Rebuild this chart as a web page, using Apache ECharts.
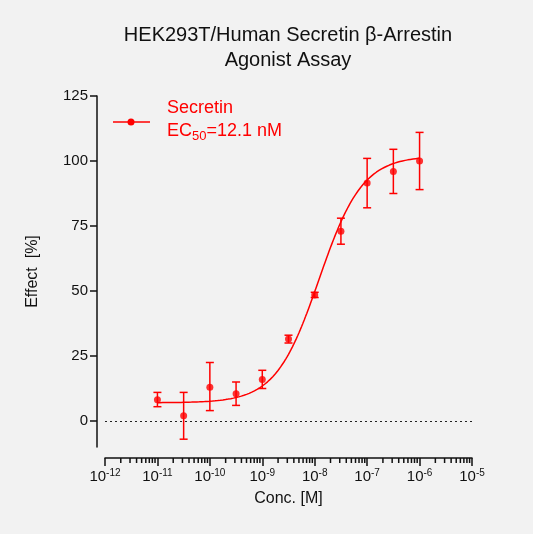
<!DOCTYPE html>
<html><head><meta charset="utf-8">
<script src="https://cdn.jsdelivr.net/npm/echarts@6/dist/echarts.min.js"></script>
<style>html,body{margin:0;padding:0;background:#fff}#c{width:533px;height:534px}</style>
</head><body><div id="c"></div>
<script>
const logConc = [-11, -10.5, -10, -9.5, -9, -8.5, -8, -7.5, -7, -6.5, -6];
const effect = [8.2, 2, 13, 10.5, 16, 31.5, 48.5, 73, 91.5, 96, 100];
const errLow = [5.5, -7, 4, 6, 12.5, 30, 47.5, 68, 82, 87.5, 89];
const errHigh = [11, 11, 22.5, 15, 19.5, 33, 49.5, 78, 101, 104.5, 111];
const yTicks = [0, 25, 50, 75, 100, 125];
// fitted 4PL parameters
const fitBottom = 7, fitTop = 102, fitLogEC50 = Math.log10(12.1e-9), fitHill = 1.05;
const curve = [];
for (let i = 0; i <= 200; i++) {
  const x = -11 + 5 * i / 200;
  curve.push([x, fitBottom + (fitTop - fitBottom) / (1 + Math.pow(10, (fitLogEC50 - x) * fitHill))]);
}
const minor = [];
for (let d = -12; d < -5; d++) for (let k = 2; k <= 9; k++) minor.push(d + Math.log10(k));
const red = '#ff0000';
const chart = echarts.init(document.getElementById('c'));
chart.setOption({
  backgroundColor: '#f2f2f2',
  animation: false,
  title: { text: 'HEK293T/Human Secretin β-Arrestin\nAgonist Assay', left: 283, top: 18, textAlign: 'center',
    textStyle: { fontFamily: 'Liberation Sans', fontWeight: 'normal', fontSize: 20, color: '#111', lineHeight: 25 } },
  grid: { left: 105, right: 61, top: 96, bottom: 87 },
  graphic: [
    { type: 'line', shape: { x1: 113, y1: 122, x2: 150, y2: 122 }, style: { stroke: red, lineWidth: 1.5 } },
    { type: 'circle', shape: { cx: 131, cy: 122, r: 3.5 }, style: { fill: red } },
    { type: 'text', left: 167, top: 97, style: { text: 'Secretin\nEC{sub|50}=12.1 nM', fill: red,
      font: '18px Liberation Sans', lineHeight: 23,
      rich: { sub: { fontSize: 13, fill: red, verticalAlign: 'bottom', padding: [8,0,0,0] } } } }
  ],
  xAxis: { type: 'value', min: -12, max: -5, interval: 1, offset: 11,
    name: 'Conc. [M]', nameLocation: 'middle', nameGap: 33,
    nameTextStyle: { fontFamily: 'Liberation Sans', fontSize: 16, color: '#111' },
    axisLine: { onZero: false, lineStyle: { color: '#111', width: 1.5 } },
    axisTick: { length: 8, lineStyle: { color: '#111', width: 1.5 } },
    splitLine: { show: false },
    axisLabel: { fontFamily: 'Liberation Sans', fontSize: 15, color: '#111', margin: 10,
      formatter: v => '10{s|' + String(v) + '}',
      rich: { s: { fontSize: 10, verticalAlign: 'top', padding: [0,0,8,0], color: '#111' } } } },
  yAxis: { type: 'value', min: -10, max: 125, offset: 8,
    name: 'Effect  [%]', nameLocation: 'middle', nameGap: 56, nameRotate: 90,
    nameTextStyle: { fontFamily: 'Liberation Sans', fontSize: 16, color: '#111' },
    axisLine: { show: true, onZero: false, lineStyle: { color: '#111', width: 1.5 } },
    axisTick: { show: true, length: 7, customValues: yTicks, lineStyle: { color: '#111', width: 1.5 } },
    splitLine: { show: false },
    axisLabel: { fontFamily: 'Liberation Sans', fontSize: 15, color: '#111', margin: 9, customValues: yTicks } },
  series: [
    { type: 'custom', silent: true, data: minor.map(v => [v]),
      renderItem: (p, api) => { const pt = api.coord([api.value(0), -10]);
        return { type: 'line', shape: { x1: pt[0], y1: pt[1] + 11, x2: pt[0], y2: pt[1] + 16 }, style: { stroke: '#111', lineWidth: 1.5 } }; } },
    { name: 'Secretin', type: 'line', data: curve, showSymbol: false,
      lineStyle: { color: red, width: 1.5 }, itemStyle: { color: red },
      markLine: { silent: true, symbol: 'none', label: { show: false },
        lineStyle: { color: '#222', type: [2,3], width: 1 }, data: [{ yAxis: 0 }] } },
    { type: 'scatter', data: logConc.map((x, i) => [x, effect[i]]), symbolSize: 7, itemStyle: { color: red }, z: 5 },
    { type: 'custom', z: 4, data: logConc.map((x, i) => [x, errLow[i], errHigh[i]]),
      renderItem: (p, api) => { const lo = api.coord([api.value(0), api.value(1)]), hi = api.coord([api.value(0), api.value(2)]);
        const s = { stroke: red, lineWidth: 1.5 };
        return { type: 'group', children: [
          { type: 'line', shape: { x1: lo[0], y1: lo[1], x2: hi[0], y2: hi[1] }, style: s },
          { type: 'line', shape: { x1: lo[0]-4, y1: lo[1], x2: lo[0]+4, y2: lo[1] }, style: s },
          { type: 'line', shape: { x1: hi[0]-4, y1: hi[1], x2: hi[0]+4, y2: hi[1] }, style: s } ] }; } }
  ]
});
</script></body></html>
